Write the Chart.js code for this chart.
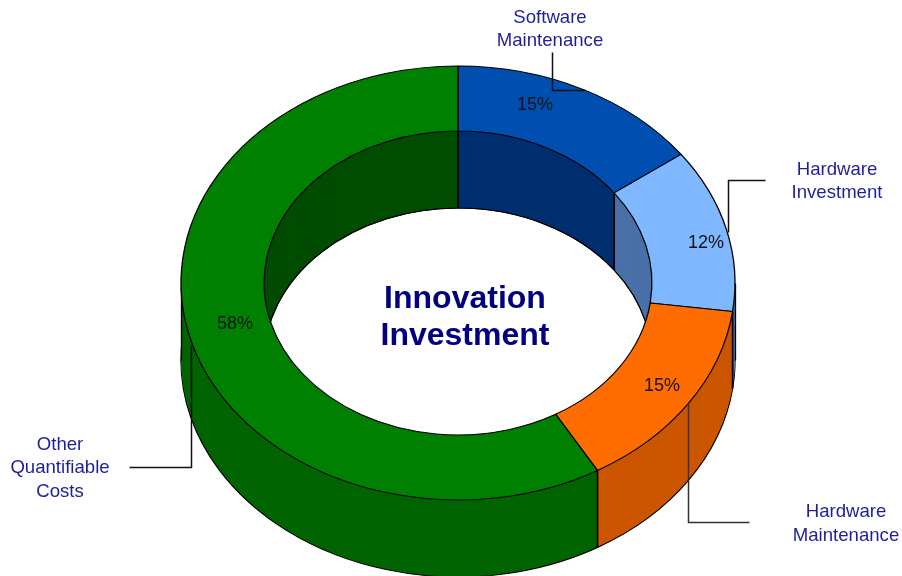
<!DOCTYPE html>
<html>
<head>
<meta charset="utf-8">
<script src="https://cdn.jsdelivr.net/npm/chart.js@4"></script>
<style>html,body{margin:0;padding:0;background:#fff}canvas{display:block;filter:blur(0.3px)}</style>
</head>
<body>
<canvas id="c" width="902" height="576"></canvas>
<script>
const categories = ["Software Maintenance", "Hardware Investment", "Hardware Maintenance", "Other Quantifiable Costs"];
const values = [14.9, 12.2, 14.5, 58.4];
const topColors = ["#004FB0", "#80B8FF", "#FF6C00", "#008000"];
const outerWallColors = ["#00367A", "#4A70A8", "#CC5500", "#006400"];
const innerWallColors = ["#002E6E", "#4A70A8", "#CC5500", "#004C00"];

const CX = 458, CY = 283, TILT = 217 / 277, DEPTH = 77, STEP = 2;
const FONT = '"Liberation Sans", Arial, sans-serif';

function tilt(ctx, chart, dy) {
  const a = chart.getDatasetMeta(0).data[0];
  ctx.translate(CX, CY + dy);
  ctx.scale(1, TILT);
  ctx.translate(-a.x, -a.y);
}
function paint(ctx, arc, color, border) {
  const g = Object.create(arc);
  g.options = Object.assign({}, arc.options, {
    backgroundColor: color,
    borderColor: '#000',
    borderWidth: border ? 1.3 : 0
  });
  g.draw(ctx);
}
function stack(ctx, chart, colors) {
  const arcs = chart.getDatasetMeta(0).data;
  for (let d = DEPTH; d >= 0; d -= STEP) {
    arcs.forEach((arc, i) => {
      ctx.save();
      tilt(ctx, chart, d);
      paint(ctx, arc, colors[i], d === DEPTH);
      ctx.restore();
    });
  }
}
function line(ctx, pts, color, w) {
  ctx.save();
  ctx.strokeStyle = color || '#000';
  ctx.lineWidth = w || 1.3;
  ctx.beginPath();
  pts.forEach((p, i) => i ? ctx.lineTo(p[0] + .5, p[1] + .5) : ctx.moveTo(p[0] + .5, p[1] + .5));
  ctx.stroke();
  ctx.restore();
}
const ring3d = {
  id: 'ring3d',
  beforeDatasetsDraw(chart) {
    const ctx = chart.ctx, arcs = chart.getDatasetMeta(0).data;
    const R = arcs[0].outerRadius, r = arcs[0].innerRadius;
    stack(ctx, chart, outerWallColors);
    ctx.save();
    ctx.beginPath();
    ctx.ellipse(CX, CY, r, r * TILT, 0, 0, Math.PI * 2);
    ctx.clip();
    stack(ctx, chart, innerWallColors);
    ctx.restore();
    // silhouette and slice edges on the walls
    line(ctx, [[CX - R, CY], [CX - R, CY + DEPTH]]);
    line(ctx, [[CX + R, CY], [CX + R, CY + DEPTH]]);
    arcs.forEach(arc => {
      const a = arc.startAngle, s = Math.sin(a), c = Math.cos(a);
      const rad = s > 0 ? R : r;
      const x = CX + rad * c - .5, y = CY + rad * s * TILT - .5;
      line(ctx, [[x, y], [x, y + DEPTH]], '#000', 1.7);
    });
    ctx.save();
    tilt(ctx, chart, 0);
  },
  afterDatasetsDraw(chart) {
    chart.ctx.restore();
  },
  afterDraw(chart) {
    const ctx = chart.ctx;
    line(ctx, [[552, 52], [552, 90], [585, 90]], '#111', 1.5);
    line(ctx, [[765, 180], [728, 180], [728, 232]], '#111', 1.5);
    line(ctx, [[688, 403], [688, 522], [749, 522]], '#333', 1.5);
    line(ctx, [[129, 467], [191, 467], [191, 345]], '#111', 1.5);

    ctx.save();
    ctx.textAlign = 'center';
    ctx.textBaseline = 'middle';
    ctx.fillStyle = '#000080';
    ctx.font = 'bold 32px ' + FONT;
    ctx.fillText('Innovation', 465, 299);
    ctx.fillText('Investment', 465, 336);

    ctx.font = '18.6px ' + FONT;
    ctx.fillStyle = '#1F1F96';
    const boxes = [
      [550, [18, 41], ['Software', 'Maintenance']],
      [837, [170, 193], ['Hardware', 'Investment']],
      [846, [512, 536], ['Hardware', 'Maintenance']],
      [60, [445, 468, 492], ['Other', 'Quantifiable', 'Costs']]
    ];
    boxes.forEach(b => b[2].forEach((t, i) => ctx.fillText(t, b[0], b[1][i])));

    ctx.font = '18px ' + FONT;
    ctx.fillStyle = '#111';
    const pct = [[535, 105], [706, 243], [662, 386], [235, 324]];
    values.forEach((v, i) => ctx.fillText(Math.round(v) + '%', pct[i][0], pct[i][1]));
    ctx.restore();
  }
};
new Chart(document.getElementById('c'), {
  type: 'doughnut',
  data: {
    labels: categories,
    datasets: [{
      data: values,
      backgroundColor: topColors,
      borderColor: '#000',
      borderWidth: 1.3,
      clip: false
    }]
  },
  options: {
    responsive: false,
    animation: false,
    radius: 277,
    cutout: '70%',
    layout: { padding: 0 },
    plugins: { legend: { display: false }, tooltip: { enabled: false }, title: { display: false } }
  },
  plugins: [ring3d]
});
</script>
</body>
</html>
